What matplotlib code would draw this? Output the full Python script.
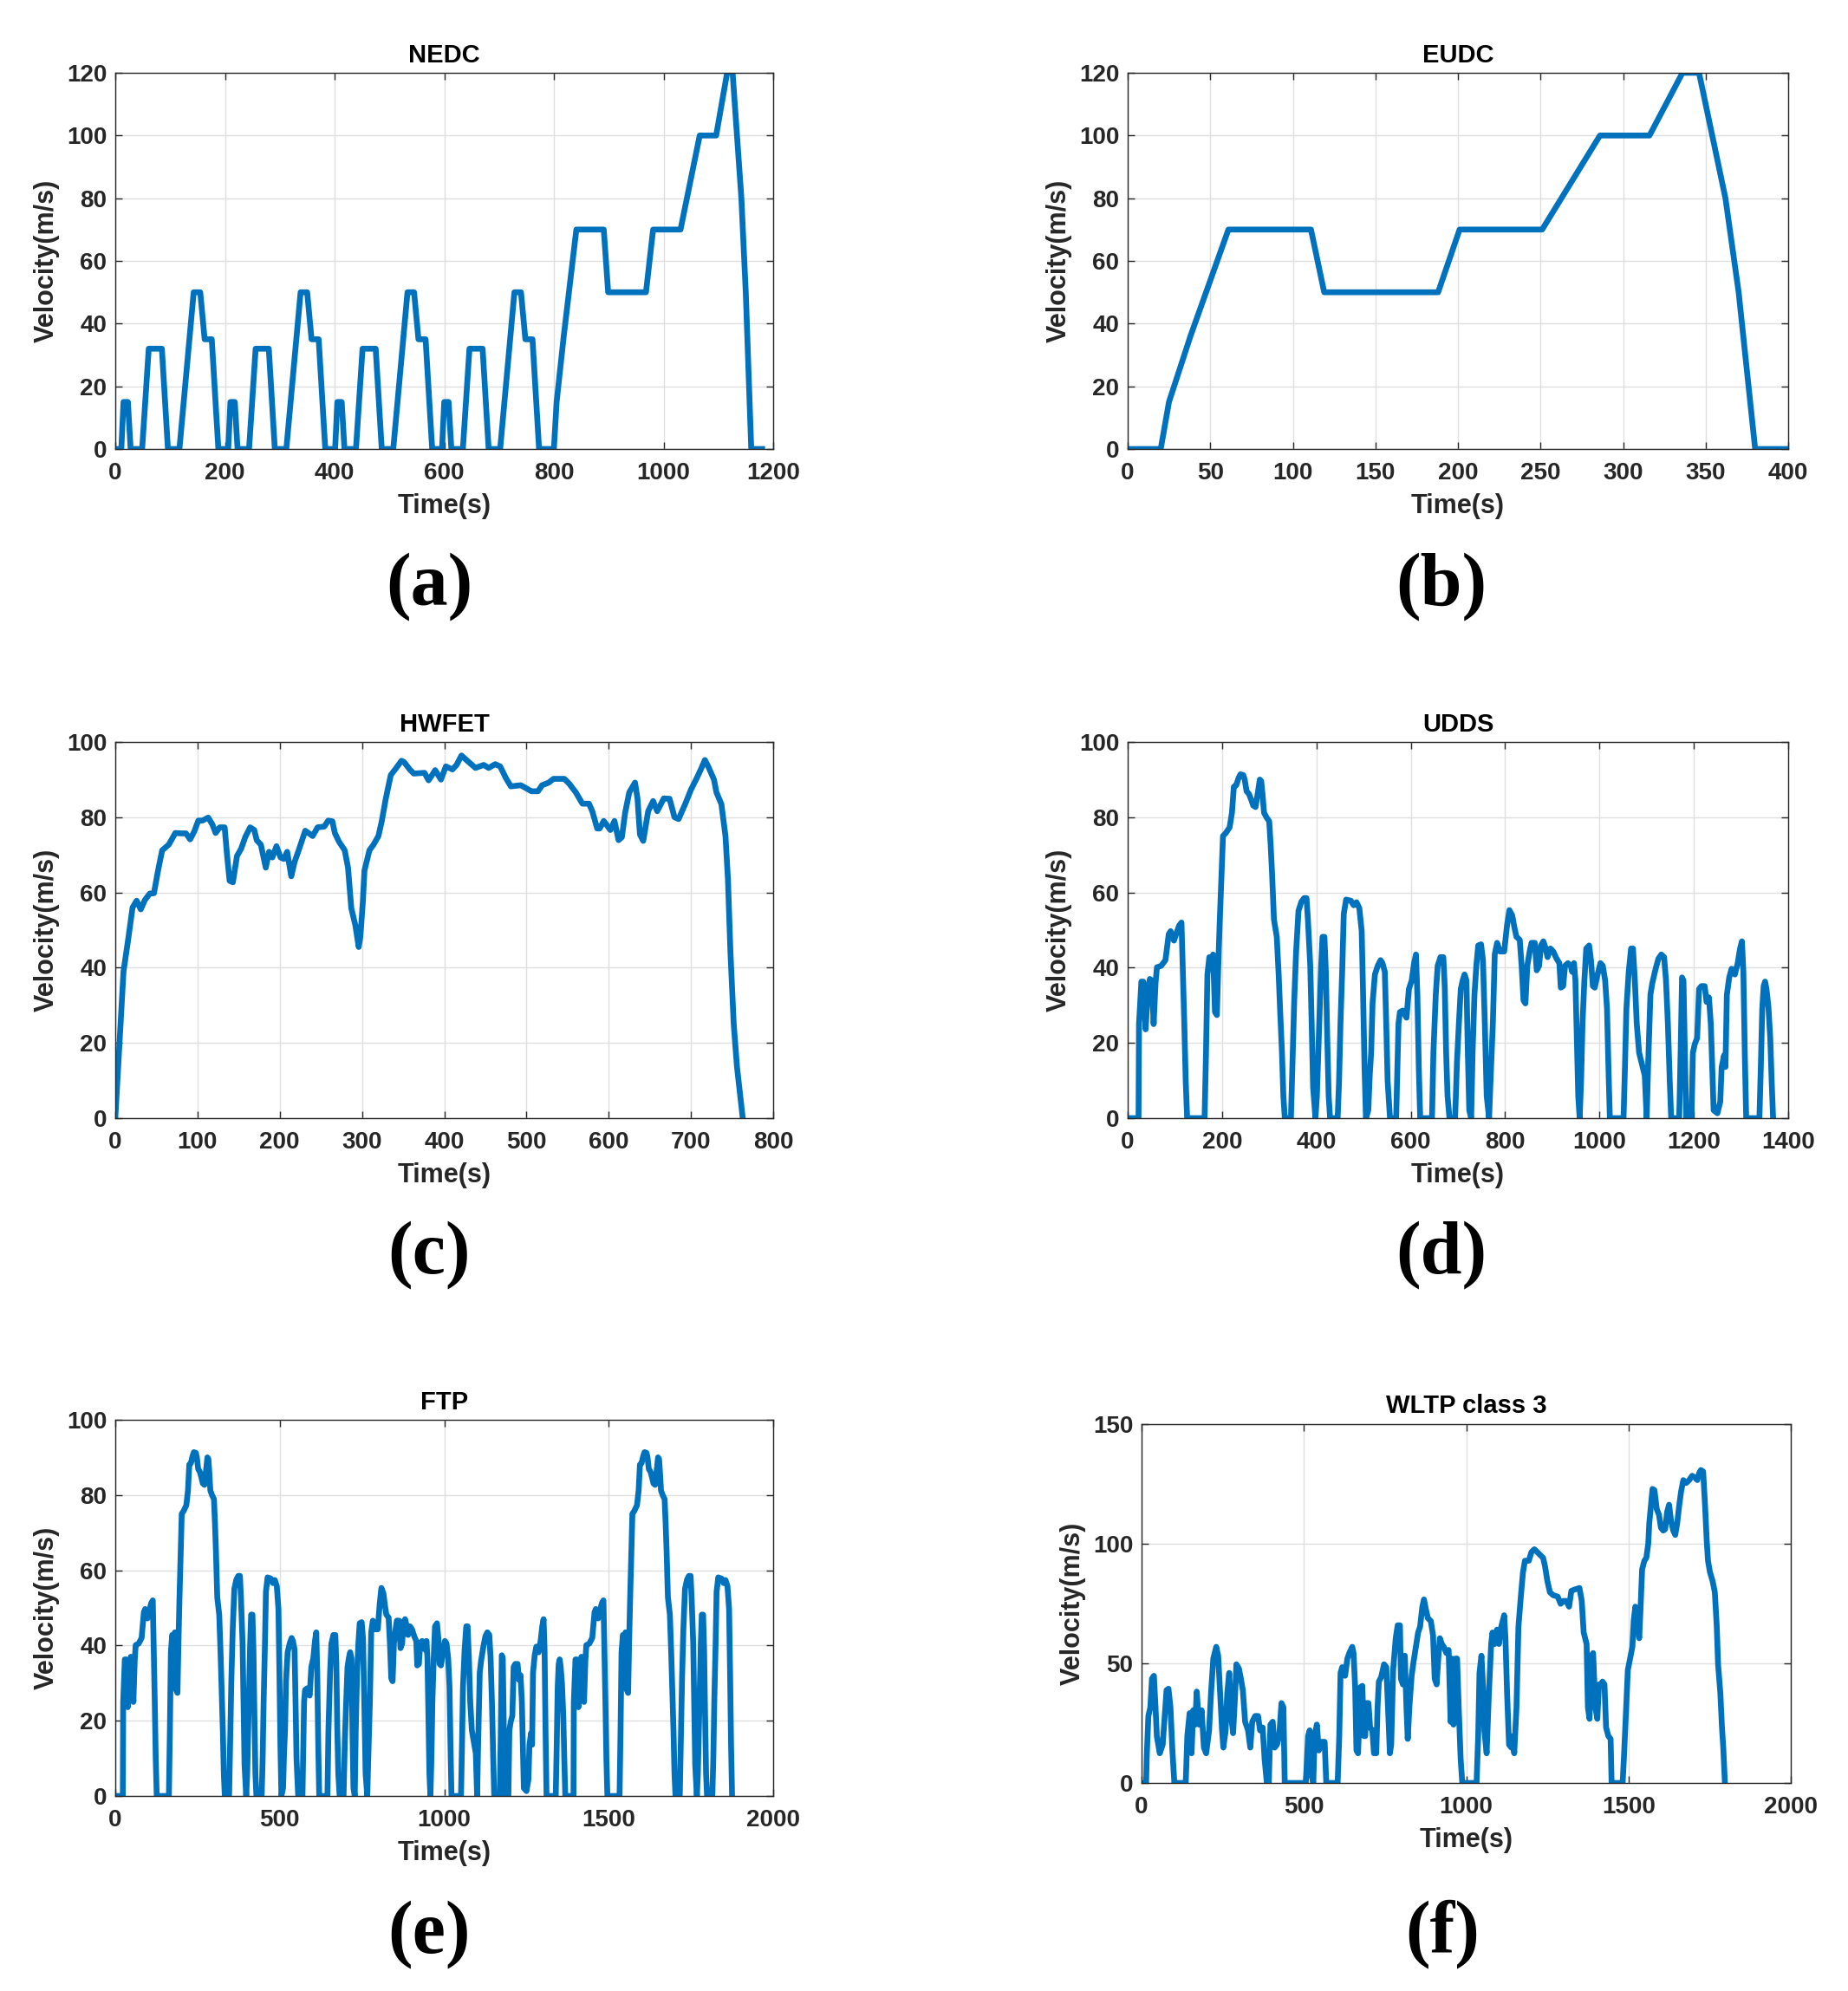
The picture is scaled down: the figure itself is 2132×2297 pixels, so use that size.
import matplotlib
matplotlib.use("Agg")
import matplotlib.pyplot as plt

# ---------------- data ----------------
# NEDC: four ECE-15 urban cycles followed by the EUDC
nedc_t = [0, 11, 15, 23, 28, 49, 61, 85, 96, 117, 143, 155, 163, 176, 188,
          195, 206, 210, 218, 223, 244, 256, 280, 291, 312, 338, 350, 358, 371, 383,
          390, 401, 405, 413, 418, 439, 451, 475, 486, 507, 533, 545, 553, 566, 578,
          585, 596, 600, 608, 613, 634, 646, 670, 681, 702, 728, 740, 748, 761, 773,
          780, 800, 805, 818, 841, 891, 899, 968, 981, 1031, 1066, 1096, 1116, 1126,
          1142, 1150, 1160, 1180]
nedc_v = [0, 0, 15, 15, 0, 0, 32, 32, 0, 0, 50, 50, 35, 35, 0,
          0, 0, 15, 15, 0, 0, 32, 32, 0, 0, 50, 50, 35, 35, 0,
          0, 0, 15, 15, 0, 0, 32, 32, 0, 0, 50, 50, 35, 35, 0,
          0, 0, 15, 15, 0, 0, 32, 32, 0, 0, 50, 50, 35, 35, 0,
          0, 0, 15, 36, 70, 70, 50, 50, 70, 70, 100, 100, 120, 120,
          80, 50, 0, 0]

eudc_t = [0, 20, 25, 38, 61, 111, 119, 188, 201, 251, 286, 316, 336, 346, 362, 370, 380, 400]
eudc_v = [0, 0, 15, 36, 70, 70, 50, 50, 70, 70, 100, 100, 120, 120, 80, 50, 0, 0]

hwfet_t = [0, 5, 10, 16, 21, 26, 31, 36, 42, 47,
           52, 57, 65, 73, 80, 86, 91, 96, 101, 106,
           113, 118, 122, 127, 133, 136, 139, 143, 148, 153,
           158, 164, 169, 172, 177, 183, 187, 191, 196, 201,
           205, 209, 214, 218, 223, 231, 240, 246, 254, 259,
           264, 267, 272, 279, 283, 287, 292, 296, 298, 301,
           303, 309, 314, 320, 324, 329, 335, 341, 348, 351,
           358, 363, 376, 381, 389, 396, 402, 410, 415, 421,
           428, 438, 448, 454, 462, 468, 475, 481, 493, 498,
           506, 514, 519, 527, 533, 546, 552, 560, 568, 576,
           580, 586, 589, 594, 602, 607, 612, 616, 620, 625,
           632, 635, 638, 642, 648, 654, 659, 667, 674, 680,
           685, 693, 700, 708, 712, 717, 721, 728, 731, 737,
           742, 745, 748, 752, 756, 763]
hwfet_v = [0, 19.7, 39, 48, 56, 57.8, 55.5, 58, 59.7, 59.8,
           65.8, 71.2, 72.7, 75.8, 75.7, 75.7, 74.1, 76.2, 79.1, 79.1,
           79.9, 78.1, 75.8, 77.3, 77.3, 69.7, 63.1, 62.7, 69.7, 71.6,
           74.7, 77.3, 76.6, 73.9, 72.7, 66.6, 70.8, 69.3, 72.3, 69.3,
           68.9, 70.8, 64.3, 68.1, 71.2, 76.4, 75, 77.3, 77.5, 79.1,
           78.9, 75.8, 73.5, 71.2, 66.6, 55.8, 51.2, 45.5, 48.2, 57.4,
           65.8, 71.2, 72.7, 75, 78.9, 85, 91.2, 92.9, 95, 94.7,
           92.7, 91.6, 91.8, 89.8, 92.5, 90, 93.5, 92.7, 93.9, 96.4,
           95, 93.1, 93.9, 93.1, 94.1, 93.5, 90.4, 88.2, 88.5, 87.9,
           86.9, 86.9, 88.5, 89.2, 90.2, 90.2, 88.9, 86.6, 83.6, 83.6,
           81.6, 77, 77, 79, 76.6, 79, 73.9, 74.7, 81.2, 86.6,
           89.2, 85, 75.4, 73.7, 81.6, 84.3, 81.6, 85, 84.9, 80,
           79.5, 83.5, 87.3, 90.8, 92.7, 95.2, 93.5, 90, 86.6, 83.5,
           75, 63.5, 44.3, 25.1, 13.6, 0]

udds_t = [0, 23, 24, 29, 33, 38, 43, 47, 51, 55,
          59, 62, 71, 80, 87, 91, 98, 105, 109, 114,
          117, 120, 123, 126, 163, 166, 169, 173, 178, 181,
          185, 189, 192, 195, 199, 202, 208, 216, 221, 225,
          230, 235, 239, 245, 248, 252, 257, 262, 266, 271,
          276, 280, 283, 286, 289, 294, 300, 303, 306, 310,
          316, 320, 323, 327, 330, 333, 346, 349, 353, 357,
          362, 368, 374, 379, 382, 387, 390, 393, 398, 401,
          405, 410, 413, 417, 420, 423, 426, 429, 445, 448,
          451, 455, 458, 463, 473, 479, 485, 491, 496, 499,
          502, 505,
          510, 513, 516, 519, 524, 530, 536, 540, 545, 548,
          551, 556, 569, 571, 574, 577, 583, 591, 596, 602,
          607, 611, 614, 617, 620, 645, 648, 653, 657, 663,
          669, 672, 675, 678, 682, 694, 698, 702, 706, 710,
          714, 718, 721, 724, 728, 731, 735, 739, 743, 749,
          753, 757, 761, 766, 769, 774, 778, 783, 789, 798,
          804, 809, 815, 820, 824, 831, 835, 839, 843, 847,
          852, 856, 863, 867, 872, 876, 881, 885, 890, 896,
          902, 909, 915, 918, 923, 927, 933, 939, 942, 946,
          949, 952, 955, 958, 961, 964, 968, 972, 978, 982,
          986, 990, 996, 1002, 1007, 1012, 1016, 1019, 1022, 1051,
          1054, 1057, 1062, 1067, 1071, 1075, 1079, 1084, 1090, 1096,
          1100, 1103, 1108, 1112, 1119, 1125, 1131, 1137, 1141, 1145,
          1149, 1152, 1169, 1172, 1175, 1178, 1181, 1184, 1195, 1198,
          1202, 1207, 1211, 1216, 1223, 1227, 1232, 1236, 1239, 1242,
          1250, 1256, 1259, 1264, 1267, 1270, 1275, 1280, 1287, 1293,
          1298, 1302, 1305, 1308, 1311, 1339, 1342, 1345, 1348, 1351,
          1354, 1358, 1362, 1365, 1368]
udds_v = [0, 0, 25, 36.3, 36.3, 23.6, 34.3, 37, 36.6, 25,
          35.9, 40.1, 40.5, 42, 48.9, 49.7, 47.2, 49.7, 51.2, 52,
          38.9, 25.1, 9.8, 0, 0, 17.4, 38.2, 42.8, 41.2, 43.5,
          28.2, 27.4, 40.5, 52, 65, 75, 75.8, 77.3, 81.2, 88.1,
          88.5, 90.4, 91.4, 91.2, 90, 86.9, 86.2, 84.6, 83.1, 82.7,
          86.6, 90, 89.6, 85.8, 81.2, 80, 78.9, 72.7, 65.1, 52.8,
          48.2, 38.2, 29, 17.4, 5.9, 0, 0, 13.6, 31.3, 44.3,
          55.1, 57.5, 58.5, 58.5, 52.8, 40.5, 25.1, 8.2, 0, 5.9,
          21.3, 40.5, 48.2, 48.2, 38.9, 21.3, 5.9, 0, 0, 9.8,
          25.1, 40.5, 54.3, 58.1, 57.8, 56.6, 57.4, 55.8, 49.7, 32.8,
          13.6, 0,
          2.1, 11.3, 17.4, 30.5, 38.2, 40.5, 42, 41.2, 38.9, 25.1,
          9.8, 0, 0, 9.8, 25.1, 28.2, 28.6, 26.7, 34.3, 36.6,
          41.2, 43.5, 32.8, 13.6, 0, 0, 17.4, 32.8, 40.5, 42.8,
          42.8, 35.1, 17.4, 5.9, 0, 0, 15.1, 25.1, 34.3, 36.6,
          38.2, 36.6, 17.4, 2.1, 0, 17.4, 32.8, 40.5, 45.9, 46.2,
          42, 25.1, 5.9, 0, 9.8, 25.1, 43.5, 46.6, 44.3, 44.3,
          51.2, 55.3, 53.9, 50.5, 48.2, 47.4, 40.5, 31.3, 30.5, 40.5,
          44.3, 46.6, 46.6, 39.3, 40.5, 45.9, 47, 45.5, 42.8, 45.1,
          44.3, 42.4, 41.2, 34.7, 35.1, 40.5, 41.2, 40.5, 38.9, 41.2,
          36.6, 21.3, 5.9, 0, 9.8, 25.1, 36.6, 45.1, 45.9, 42,
          35.1, 34.7, 38.2, 41.2, 40.5, 36.6, 29, 13.6, 0, 0,
          13.6, 29, 38.9, 45.1, 45.1, 36.6, 25.1, 17.4, 14.4, 11.3,
          0, 13.6, 32.8, 35.9, 39.7, 42.4, 43.5, 42.8, 36.6, 25.1,
          9.8, 0, 0, 17.4, 37.4, 36.6, 17.4, 0, 0, 17.4,
          19.7, 21.3, 34.3, 35.1, 35.1, 30.9, 32.1, 25.1, 13.6, 2.1,
          1.3, 4.4, 13.6, 16.7, 13.6, 32.8, 37.4, 39.7, 38.2, 41.2,
          45.1, 47, 38.9, 17.4, 0, 0, 13.6, 29, 35.1, 36.3,
          34.3, 29.7, 21.3, 9.8, 0]

# FTP-75 = UDDS followed by the hot-start phase (first 505 s of the UDDS again)
ftp_hot_t = [1370, 1393, 1394, 1399, 1403, 1408, 1413, 1417, 1421, 1425,
             1429, 1432, 1441, 1450, 1457, 1461, 1468, 1475, 1479, 1484,
             1487, 1490, 1493, 1496, 1533, 1536, 1539, 1543, 1548, 1551,
             1555, 1559, 1562, 1565, 1569, 1572, 1578, 1586, 1591, 1595,
             1600, 1605, 1609, 1615, 1618, 1622, 1627, 1632, 1636, 1641,
             1646, 1650, 1653, 1656, 1659, 1664, 1670, 1673, 1676, 1680,
             1686, 1690, 1693, 1697, 1700, 1703, 1716, 1719, 1723, 1727,
             1732, 1738, 1744, 1749, 1752, 1757, 1760, 1763, 1768, 1771,
             1775, 1780, 1783, 1787, 1790, 1793, 1796, 1799, 1815, 1818,
             1821, 1825, 1828, 1833, 1843, 1849, 1855, 1861, 1866, 1869,
             1872, 1875]
ftp_hot_v = [0, 0, 25, 36.3, 36.3, 23.6, 34.3, 37, 36.6, 25,
             35.9, 40.1, 40.5, 42, 48.9, 49.7, 47.2, 49.7, 51.2, 52,
             38.9, 25.1, 9.8, 0, 0, 17.4, 38.2, 42.8, 41.2, 43.5,
             28.2, 27.4, 40.5, 52, 65, 75, 75.8, 77.3, 81.2, 88.1,
             88.5, 90.4, 91.4, 91.2, 90, 86.9, 86.2, 84.6, 83.1, 82.7,
             86.6, 90, 89.6, 85.8, 81.2, 80, 78.9, 72.7, 65.1, 52.8,
             48.2, 38.2, 29, 17.4, 5.9, 0, 0, 13.6, 31.3, 44.3,
             55.1, 57.5, 58.5, 58.5, 52.8, 40.5, 25.1, 8.2, 0, 5.9,
             21.3, 40.5, 48.2, 48.2, 38.9, 21.3, 5.9, 0, 0, 9.8,
             25.1, 40.5, 54.3, 58.1, 57.8, 56.6, 57.4, 55.8, 49.7, 32.8,
             13.6, 0]
ftp_t = udds_t + ftp_hot_t
ftp_v = udds_v + ftp_hot_v

wltp_t = [0, 14, 16, 21, 27, 32, 38, 43, 47, 56,
          65, 70, 77, 83, 89, 95, 101, 136, 141, 148,
          154, 159, 165, 170, 177, 185, 192, 199, 208, 214,
          221, 230, 236, 242, 248, 252, 259, 264, 270, 276,
          282, 288, 292, 300, 306, 312, 319, 328, 335, 341,
          350, 359, 365, 373, 379, 386, 392, 397, 404, 410,
          417, 424, 431, 437, 441, 506, 513, 518, 524, 529,
          533, 540, 546, 555, 564, 569, 604, 609, 613, 618,
          627, 634, 640, 649, 653, 658, 662, 667, 674, 680,
          685, 689, 693, 699, 704, 711, 716, 723, 727, 731,
          738, 747, 754, 759, 765, 769, 775, 783, 789, 796,
          799, 805, 811, 816, 820, 825, 832, 838, 845, 852,
          858, 865, 870, 876, 882, 891, 898, 903, 909, 914,
          919, 925, 931, 939, 946, 952, 956, 961, 967, 972,
          977, 983, 988, 1032, 1037, 1041, 1047, 1052, 1056, 1063,
          1070, 1077, 1081, 1088, 1095, 1101, 1108, 1117, 1121, 1126,
          1132, 1139, 1144, 1148, 1155, 1161, 1168, 1175, 1181, 1193,
          1201, 1210, 1219, 1228, 1237, 1243, 1250, 1258, 1268, 1282,
          1291, 1300, 1308, 1317, 1324, 1335, 1349, 1356, 1362, 1371,
          1375, 1380, 1386, 1391, 1398, 1404, 1409, 1415, 1420, 1426,
          1431, 1438, 1445, 1448, 1482, 1487, 1493, 1498, 1505, 1512,
          1516, 1521, 1527, 1533, 1537, 1542, 1549, 1555, 1561, 1564,
          1570, 1574, 1580, 1587, 1594, 1600, 1607, 1613, 1619, 1625,
          1631, 1638, 1644, 1650, 1656, 1662, 1669, 1678, 1687, 1696,
          1705, 1712, 1718, 1723, 1730, 1736, 1741, 1745, 1751, 1759,
          1766, 1772, 1776, 1783, 1788, 1792, 1797]
wltp_v = [0, 0, 11.2, 28, 31.6, 43.6, 44.8, 31.6, 19.6, 12.4,
          16, 25.6, 38.8, 39.4, 31.6, 13.6, 0, 0, 19.6, 29.2,
          12.4, 30.4, 24.4, 38.2, 24.4, 30.4, 14.8, 12.4, 22, 37.6,
          52, 56.9, 53.2, 37.6, 22, 14.8, 22, 37.6, 46, 28,
          20.8, 36.4, 49.6, 47.8, 43.6, 38.8, 25.6, 22, 14.8, 25.6,
          28, 28, 22, 23.2, 10, 0, 0, 24.4, 25.6, 14.8,
          16, 19.6, 33.4, 31.6, 0, 0, 19.6, 22, 2.8, 0,
          19.6, 24.4, 13.6, 17.2, 17.2, 0, 0, 19.6, 46, 48.4,
          44.8, 52, 54.3, 56.9, 54.3, 40, 13.6, 12.4, 40, 40.6,
          19.6, 19.6, 33.4, 33.4, 23.2, 22, 12.4, 12.4, 31.6, 42.4,
          44.2, 49.6, 48.4, 31.6, 12.4, 16, 47.2, 60.5, 65.9, 65.9,
          43.6, 41.2, 53.2, 31.6, 18.4, 31.6, 44.8, 50.8, 56.9, 62.9,
          65.3, 73.7, 76.7, 72.5, 68.9, 67.7, 61.7, 43.6, 41.2, 52,
          60.5, 58.1, 56.9, 54.3, 55.6, 25.6, 52, 24.4, 52, 52,
          31.6, 10, 0, 0, 19.6, 46, 53.2, 40, 22, 12.4,
          37.6, 58.1, 62.9, 58.1, 64.1, 58.1, 65.3, 70.1, 60.5, 37.6,
          16, 14.8, 19.6, 12.4, 31.6, 65.3, 77.3, 88.1, 92.9, 92.9,
          96.5, 97.7, 96.5, 95.3, 94.1, 90.5, 84.5, 79.7, 78.5, 77.9,
          74.9, 76.1, 76.1, 73.7, 80.3, 80.9, 81.5, 76.1, 62.9, 58.1,
          31.6, 26.8, 53.2, 54.3, 31.6, 26.8, 41.2, 41.2, 42.4, 41.2,
          23.2, 19.6, 18.4, 0, 0, 13.6, 31.6, 47.2, 52, 56.9,
          67.7, 73.7, 67.7, 60.5, 72.5, 89.3, 92.9, 94.1, 100.1, 108.5,
          116.9, 122.9, 122.4, 114.5, 112.1, 106.7, 105.5, 106.1, 113.3, 116.3,
          109.7, 105.5, 103.7, 108.5, 115.7, 121.8, 126.6, 125.4, 126.6, 128.4,
          127.6, 126.6, 129.6, 130.8, 130.2, 115.7, 101.3, 92.9, 88.1, 84.5,
          79.7, 65.3, 49.6, 37.6, 23.2, 14.8, 0]

titles = ["NEDC", "EUDC", "HWFET", "UDDS", "FTP", "WLTP class 3"]
panel_letters = ["(a)", "(b)", "(c)", "(d)", "(e)", "(f)"]
x_label = "Time(s)"
y_label = "Velocity(m/s)"
x_ticks = [[0, 200, 400, 600, 800, 1000, 1200],
           [0, 50, 100, 150, 200, 250, 300, 350, 400],
           [0, 100, 200, 300, 400, 500, 600, 700, 800],
           [0, 200, 400, 600, 800, 1000, 1200, 1400],
           [0, 500, 1000, 1500, 2000],
           [0, 500, 1000, 1500, 2000]]
y_ticks = [[0, 20, 40, 60, 80, 100, 120],
           [0, 20, 40, 60, 80, 100, 120],
           [0, 20, 40, 60, 80, 100],
           [0, 20, 40, 60, 80, 100],
           [0, 20, 40, 60, 80, 100],
           [0, 50, 100, 150]]
series = [(nedc_t, nedc_v), (eudc_t, eudc_v), (hwfet_t, hwfet_v),
          (udds_t, udds_v), (ftp_t, ftp_v), (wltp_t, wltp_v)]

# ---------------- layout (pixels of the 2132 x 2297 figure) ----------------
W, H = 2132, 2297
boxes = [(133, 892, 84, 518), (1301, 2063, 84, 518),
         (133, 892, 856, 1290), (1301, 2063, 856, 1290),
         (133, 892, 1638, 2072), (1317, 2066, 1643, 2057)]
letter_pos = [(495, 677), (1663, 677), (495, 1448), (1663, 1448), (495, 2232), (1664, 2232)]

LINE = "#0072BD"
DARK = "#262626"
SANS = ["Liberation Sans", "DejaVu Sans"]

fig = plt.figure(figsize=(W / 100, H / 100), dpi=100)
fig.patch.set_facecolor("white")

for i, (L, R, T, B) in enumerate(boxes):
    ax = fig.add_axes([L / W, 1 - B / H, (R - L) / W, (B - T) / H])
    t, v = series[i]
    ax.plot(t, v, color=LINE, linewidth=4.8, solid_joinstyle="round")
    ax.set_xlim(x_ticks[i][0], x_ticks[i][-1])
    ax.set_ylim(y_ticks[i][0], y_ticks[i][-1])
    ax.set_xticks(x_ticks[i])
    ax.set_yticks(y_ticks[i])
    ax.grid(True, color="#dfdfdf", linewidth=1.0)
    ax.set_axisbelow(True)
    for s in ax.spines.values():
        s.set_color(DARK)
        s.set_linewidth(1.0)
    ax.tick_params(direction="in", length=6, width=1.0, color=DARK,
                   top=True, right=True, labelsize=20, labelcolor=DARK)
    ax.tick_params(axis="x", pad=11)
    ax.tick_params(axis="y", pad=7)
    for lab in ax.get_xticklabels() + ax.get_yticklabels():
        lab.set_fontfamily(SANS)
        lab.set_fontweight("bold")
    ax.set_title(titles[i], fontsize=21, fontweight="bold", family=SANS,
                 color="black", pad=9)
    ax.set_xlabel(x_label, fontsize=22, fontweight="bold", family=SANS,
                  color=DARK, labelpad=7)
    ax.set_ylabel(y_label, fontsize=22, fontweight="bold", family=SANS,
                  color=DARK, labelpad=6)
    lx, ly = letter_pos[i]
    fig.text(lx / W, 1 - ly / H, panel_letters[i], ha="center", va="center",
             fontsize=62, fontweight="bold",
             family=["Liberation Serif", "DejaVu Serif"], color="black")

fig.savefig("out.png", dpi=100, facecolor="white")
